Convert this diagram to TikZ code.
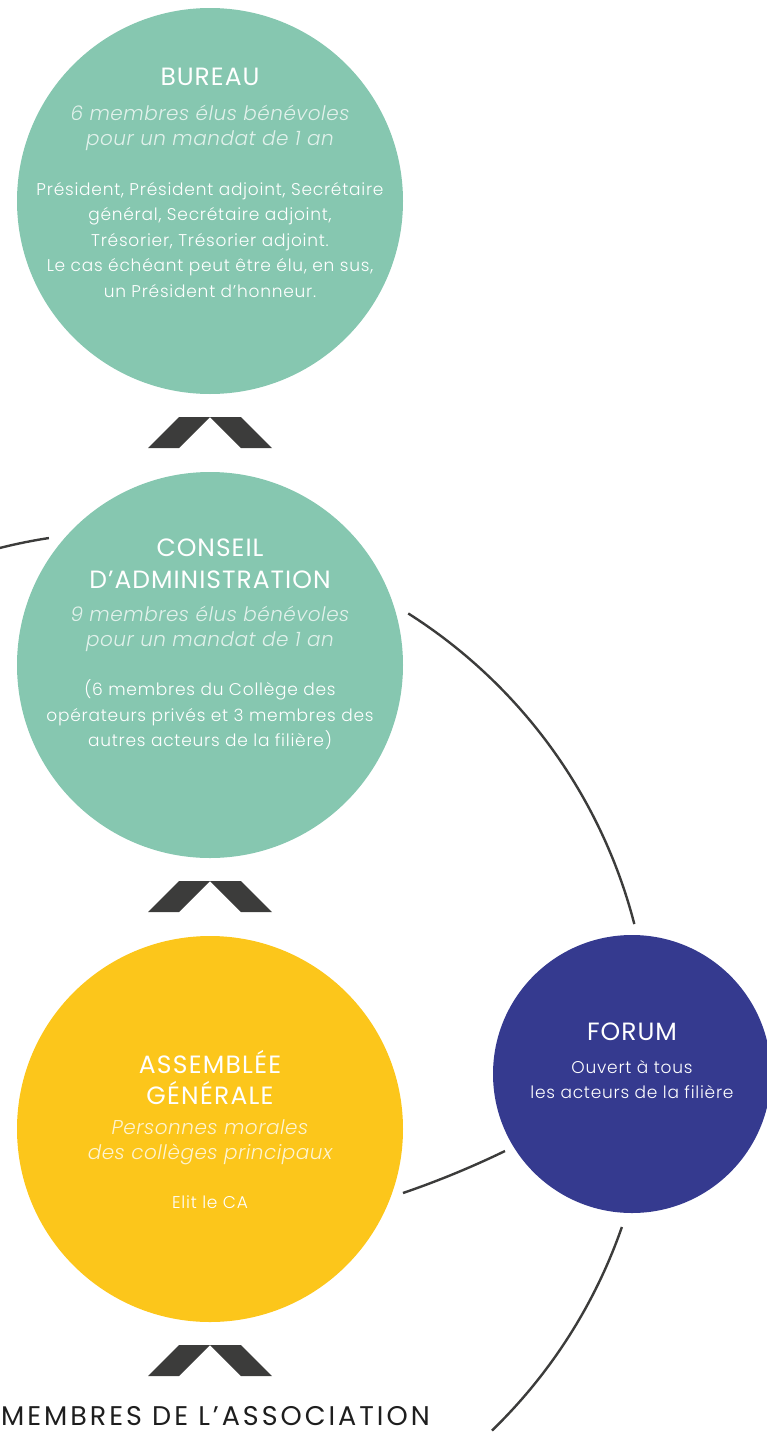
\documentclass[tikz,border=0pt]{standalone}
\usepackage{fontspec}
\IfFontExistsTF{Poppins Light}{%
  \IfFontExistsTF{Poppins Light Italic}{%
    \setmainfont{Poppins Light}[ItalicFont={Poppins Light Italic}]}{%
    \setmainfont{Poppins Light}}}{%
  \setmainfont{Poppins}}
\newfontfamily\regf{Poppins}
\definecolor{tealc}{HTML}{86C7B0}
\definecolor{yellowc}{HTML}{FCC61B}
\definecolor{navyc}{HTML}{353A8F}
\definecolor{darkc}{HTML}{3C3C3B}
\definecolor{inkc}{HTML}{1E1E1E}
\begin{document}
\begin{tikzpicture}[x=1pt,y=-1pt,
  disc/.style={circle,inner sep=0pt,minimum size=386pt},
  ttl/.style={text=white,align=center,inner sep=0pt,font=\regf\fontsize{25}{32}\selectfont\addfontfeatures{LetterSpace=4}},
  sub/.style={align=center,inner sep=0pt,font=\fontsize{20}{25}\selectfont\itshape\addfontfeatures{LetterSpace=2.5}},
  body/.style={text=white,align=center,inner sep=0pt,font=\fontsize{17}{25.5}\selectfont\addfontfeatures{LetterSpace=4.5}},
  chev/.style={fill=darkc},
  link/.style={draw=darkc,line width=2.4pt}]
\useasboundingbox (0,0) rectangle (767,1432);
\clip (0,0) rectangle (767,1432);
% discs
\node[disc,fill=tealc] (bureau) at (210,201) {};
\node[disc,fill=tealc] (ca) at (210,665) {};
\node[disc,fill=yellowc] (ag) at (210,1129) {};
\node[circle,inner sep=0pt,minimum size=278pt,fill=navyc] (forum) at (632,1074) {};
% big arc centre
\coordinate (O) at (128,1055);
\draw[link] ([shift={(-106:523)}]O) arc[start angle=-106,end angle=-98.7,radius=523];
\draw[link] ([shift={(-57.6:523)}]O) arc[start angle=-57.6,end angle=-14.5,radius=523];
\draw[link] ([shift={(19.2:523)}]O) arc[start angle=19.2,end angle=45.9,radius=523];
\coordinate (agf1) at (403,1193);
\coordinate (agf2) at (505,1151);
\draw[link] (agf1) .. controls (438,1181) and (472,1167) .. (agf2);
% chevrons
\foreach \yy/\nm in {448/c1,912/c2,1376/c3}{
  \coordinate (\nm) at (210,\yy);
  \fill[chev] (\nm) ++(-62,0) -- ++(31,-31) -- ++(31,0) -- ++(-31,31) -- cycle;
  \fill[chev] (\nm) ++(0,-31) -- ++(31,0) -- ++(31,31) -- ++(-31,0) -- cycle;
}
% Bureau text
\node[ttl] (bt) at (210,77) {BUREAU};
\node[sub,text=white!75!tealc] (bs) at (210,128) {6 membres élus bénévoles\\pour un mandat de 1 an};
\node[body] (bb) at (210,240) {Président, Président adjoint, Secrétaire\\général, Secrétaire adjoint,\\Trésorier, Trésorier adjoint.\\Le cas échéant peut être élu, en sus,\\un Président d’honneur.};
% CA text
\node[ttl] (ct) at (210,564) {CONSEIL\\D’ADMINISTRATION};
\node[sub,text=white!75!tealc] (cs) at (210,629) {9 membres élus bénévoles\\pour un mandat de 1 an};
\node[body] (cb) at (210,715) {(6 membres du Collège des\\opérateurs privés et 3 membres des\\autres acteurs de la filière)};
% AG text
\node[ttl,font=\regf\fontsize{25}{31}\selectfont\addfontfeatures{LetterSpace=5}] (at) at (210,1077.5) {ASSEMBLÉE\\GÉNÉRALE};
\node[sub,text=white!80!yellowc] (as) at (210,1142.5) {Personnes morales\\des collèges principaux};
\node[body,text=white] (ab) at (210,1202) {Elit le CA};
% Forum text
\node[ttl] (ft) at (632,1032) {FORUM};
\node[body] (fb) at (632,1079.5) {Ouvert à tous\\les acteurs de la filière};
% bottom label
\node[text=inkc,inner sep=0pt,anchor=west,font=\regf\fontsize{27}{30}\selectfont\addfontfeatures{LetterSpace=11}] (mem) at (1,1416) {MEMBRES DE L’ASSOCIATION};
\end{tikzpicture}
\end{document}
